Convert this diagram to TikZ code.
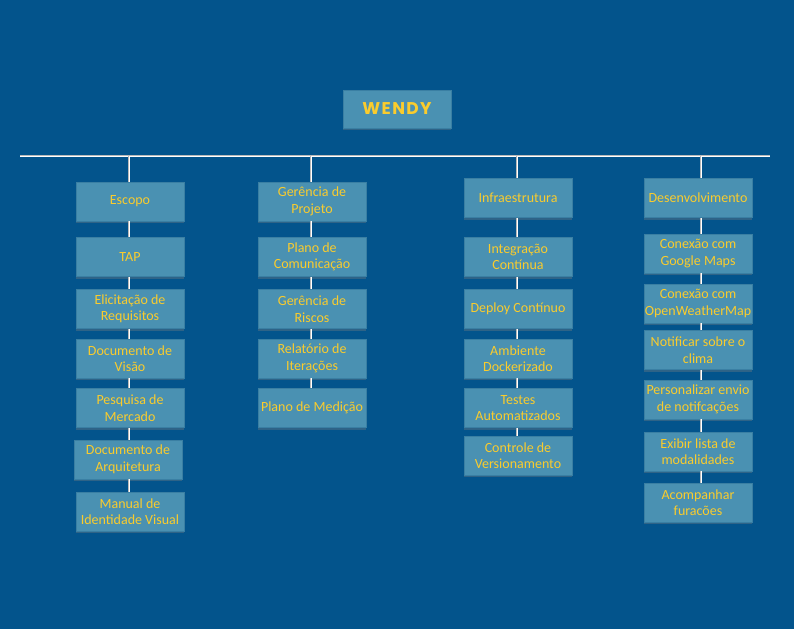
\documentclass[tikz,border=0pt]{standalone}
\usepackage{fontspec}
\setmainfont{Carlito}
\newfontfamily\titlefont[LetterSpace=8]{Poppins}
\usetikzlibrary{shadows}

\definecolor{bgblue}{RGB}{3,84,140}
\definecolor{boxblue}{RGB}{74,145,178}
\definecolor{boxedge}{RGB}{58,127,163}
\definecolor{txtyellow}{RGB}{250,204,45}

\tikzset{
  item/.style={draw=boxedge, fill=boxblue, line width=0.6pt,
    minimum width=108pt, minimum height=39pt, inner sep=0pt,
    align=center, text=txtyellow,
    font=\fontsize{14}{16.5}\selectfont,
    drop shadow={opacity=0.35, shadow xshift=0pt, shadow yshift=-2pt}},
  link/.style={draw=gray!55, double=white, double distance=1pt, line width=0.6pt}
}

\begin{document}
\begin{tikzpicture}[x=1pt, y=-1pt]
  % background and fixed size
  \fill[bgblue] (0,0) rectangle (794,629);
  \useasboundingbox (0,0) rectangle (794,629);

  % title
  \node[item, minimum width=108pt, minimum height=38pt,
        font=\titlefont\bfseries\fontsize{17}{20}\selectfont] (wendy) at (397,109) {WENDY};

  % horizontal bus
  \coordinate (busL) at (20,156);
  \coordinate (busR) at (770,156);
  \draw[link] (busL) -- (busR);

  % Escopo column
  \node[item] (esc)  at (130,201.5) {Escopo};
  \node[item] (esc1) at (130,257)   {TAP};
  \node[item] (esc2) at (130,309)   {Elicitação de\\Requisitos};
  \node[item] (esc3) at (130,358.5) {Documento de\\Visão};
  \node[item] (esc4) at (130,408)   {Pesquisa de\\Mercado};
  \node[item] (esc5) at (128,459.5) {Documento de\\Arquitetura};
  \node[item] (esc6) at (130,511.5) {Manual de\\Identidade Visual};

  % Gerencia column
  \node[item] (ger)  at (312,201.5) {Gerência de\\Projeto};
  \node[item] (ger1) at (312,257)   {Plano de\\Comunicação};
  \node[item] (ger2) at (312,309)   {Gerência de\\Riscos};
  \node[item] (ger3) at (312,358.5) {Relatório de\\Iterações};
  \node[item] (ger4) at (312,408)   {Plano de Medição};

  % Infraestrutura column
  \node[item] (inf)  at (518,198)   {Infraestrutura};
  \node[item] (inf1) at (518,257)   {Integração\\Contínua};
  \node[item] (inf2) at (518,309)   {Deploy Contínuo};
  \node[item] (inf3) at (518,358.5) {Ambiente\\Dockerizado};
  \node[item] (inf4) at (518,408)   {Testes\\Automatizados};
  \node[item] (inf5) at (518,455.5) {Controle de\\Versionamento};

  % Desenvolvimento column
  \node[item] (dev)  at (698,198)   {Desenvolvimento};
  \node[item] (dev1) at (698,253.5) {Conexão com\\Google Maps};
  \node[item] (dev2) at (698,303.5) {Conexão com\\OpenWeatherMap};
  \node[item] (dev3) at (698,350)   {Notificar sobre o\\clima};
  \node[item] (dev4) at (698,399.5) {Personalizar envio\\de notifcações};
  \node[item] (dev5) at (698,451.5) {Exibir lista de\\modalidades};
  \node[item] (dev6) at (698,502.5) {Acompanhar\\furacões};

  % bus drops to the column heads
  \foreach \h/\x in {esc/129, ger/311, inf/517, dev/701} {
    \coordinate (drop\h) at (\x,156);
    \draw[link] (drop\h) -- (\h.north -| drop\h);
  }

  % links down each column
  \foreach \a/\b/\x in {esc/esc1/129, esc1/esc2/129, esc2/esc3/129, esc3/esc4/129,
                        esc4/esc5/129, esc5/esc6/129,
                        ger/ger1/311, ger1/ger2/311, ger2/ger3/311, ger3/ger4/311,
                        inf/inf1/517, inf1/inf2/517, inf2/inf3/517, inf3/inf4/517,
                        inf4/inf5/517,
                        dev/dev1/701, dev1/dev2/701, dev2/dev3/701, dev3/dev4/701,
                        dev4/dev5/701, dev5/dev6/701} {
    \draw[link] (\a.south -| \x,0) -- (\b.north -| \x,0);
  }
\end{tikzpicture}
\end{document}
